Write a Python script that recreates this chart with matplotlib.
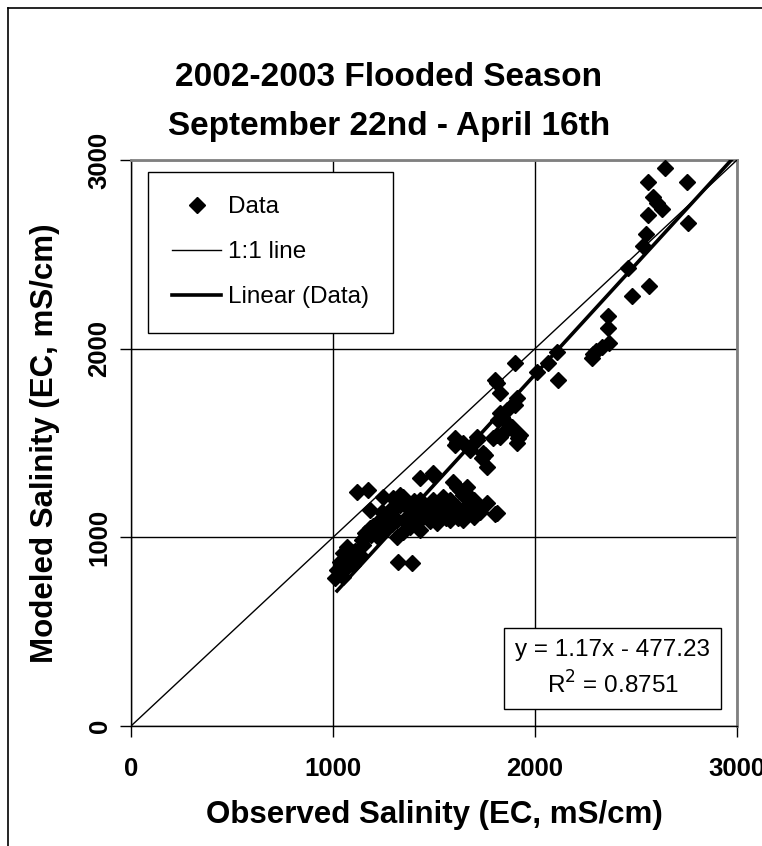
import matplotlib.pyplot as plt
from matplotlib.lines import Line2D

plt.rcParams['font.family'] = ['Liberation Sans', 'DejaVu Sans']

# observed / modeled salinity (EC, mS/cm)
observed = [2644, 2559, 2752, 2584, 2604, 2629, 2559, 2757, 2550, 2535,
            2460, 2564, 2480, 2361, 2361, 2366, 2332, 2287, 2282, 2300,
            2109, 2114, 2064, 2010, 1901, 1802, 1812, 1827, 1911, 1901,
            1861, 1837, 1817, 1861, 1886, 1926, 1842, 1812, 1713, 1604,
            1916, 1827, 1891, 1911, 1827, 1792, 1713, 1614, 1604, 1644,
            1743, 1738, 1762, 1678, 1752, 1431, 1495, 1495, 1594, 1545,
            1629, 1663, 1678, 1579, 1614, 1688, 1728, 1812, 1495, 1431,
            1347, 1381, 1446, 1495, 1545, 1431, 1515, 1579, 1644, 1614,
            1644, 1802, 1267, 1350, 1400, 1480, 1560, 1700, 1119, 1173,
            1183, 1243, 1248, 1297, 1332, 1292, 1317, 1218, 1183, 1158,
            1144, 1223, 1069, 1050, 1094, 1134, 1035, 1069, 1020, 1099,
            1010, 1050, 1322, 1391, 1317, 1347, 1381, 1431, 1160, 1170,
            1200, 1240, 1270, 1300, 1330, 1360, 1400, 1420, 1460, 1500,
            1530, 1560, 1600, 1640, 1680, 1700, 1060, 1080, 1110, 1030,
            1045, 1150, 1190, 1260, 1290, 1380, 1440, 1470, 1520, 1590,
            1620, 1660, 1720, 1760]
modeled = [2957, 2883, 2883, 2803, 2772, 2740, 2708, 2666, 2607, 2544,
           2427, 2332, 2279, 2173, 2109, 2030, 2008, 1971, 1950, 1990,
           1982, 1834, 1924, 1876, 1924, 1834, 1818, 1765, 1738, 1701,
           1675, 1638, 1622, 1606, 1585, 1542, 1553, 1542, 1532, 1526,
           1526, 1659, 1569, 1500, 1532, 1526, 1516, 1505, 1489, 1500,
           1447, 1420, 1373, 1463, 1436, 1314, 1330, 1341, 1293, 1214,
           1251, 1267, 1214, 1198, 1161, 1145, 1134, 1129, 1198, 1198,
           1214, 1145, 1129, 1129, 1118, 1092, 1076, 1092, 1092, 1267,
           1224, 1124, 1090, 1090, 1080, 1085, 1100, 1110, 1240, 1251,
           1145, 1134, 1214, 1208, 1224, 1155, 1092, 1076, 1049, 1023,
           986, 1002, 949, 917, 922, 906, 869, 843, 827, 853,
           784, 790, 869, 864, 1002, 1028, 1055, 1039, 1000, 1030,
           1060, 1090, 1120, 1150, 1170, 1180, 1190, 1170, 1160, 1170,
           1150, 1140, 1130, 1140, 1180, 1200, 880, 900, 930, 820,
           850, 960, 1010, 1050, 1070, 1110, 1120, 1100, 1110, 1120,
           1100, 1120, 1160, 1180]

slope = 1.17
intercept = -477.23
r_squared = 0.8751
trend_range = [1020, 3000]
ticks = [0, 1000, 2000, 3000]

W, H = 762, 846
fig = plt.figure(figsize=(W / 100, H / 100), dpi=100)
ax = fig.add_axes([131 / W, 1 - 726 / H, (737 - 131) / W, (726 - 160) / H])

ax.plot(observed, modeled, 'D', color='black', markersize=7.8, label='Data', zorder=4)
ax.plot([0, 3000], [0, 3000], color='black', lw=1.0, label='1:1 line', zorder=3)
tx = trend_range
ty = [slope * v + intercept for v in tx]
ax.plot(tx, ty, color='black', lw=2.6, label='Linear (Data)', zorder=3)

ax.set_xlim(0, 3000)
ax.set_ylim(0, 3000)
ax.set_xticks(ticks)
ax.set_yticks(ticks)
ax.set_xticklabels([str(t) for t in ticks], fontsize=18.5, fontweight='bold')
ax.set_yticklabels([str(t) for t in ticks], fontsize=18.5, fontweight='bold',
                   rotation=90, va='center')
ax.tick_params(axis='both', direction='out', length=8, width=1, color='black')
ax.tick_params(axis='x', pad=14)
ax.tick_params(axis='y', pad=6)
ax.grid(True, color='black', lw=1)
ax.set_axisbelow(True)
for s in ['top', 'right']:
    ax.spines[s].set_color('#808080')
    ax.spines[s].set_linewidth(2)
for s in ['left', 'bottom']:
    ax.spines[s].set_color('black')
    ax.spines[s].set_linewidth(1)

ax.set_xlabel('Observed Salinity (EC, mS/cm)', fontsize=22.5, fontweight='bold', labelpad=14)
ax.set_ylabel('Modeled Salinity (EC, mS/cm)', fontsize=22.5, fontweight='bold', labelpad=20)

fig.text(389 / W, 1 - 77 / H, '2002-2003 Flooded Season', fontsize=24,
         fontweight='bold', ha='center', va='center')
fig.text(389 / W, 1 - 127 / H, 'September 22nd - April 16th', fontsize=24,
         fontweight='bold', ha='center', va='center')

handles = [Line2D([], [], marker='D', ls='none', color='black', markersize=7.8),
           Line2D([], [], color='black', lw=1.0),
           Line2D([], [], color='black', lw=2.6)]
leg = ax.legend(handles, ['Data', '1:1 line', 'Linear (Data)'],
                loc='upper left', bbox_to_anchor=(0.028, 0.979), fontsize=17.5,
                fancybox=False, edgecolor='black', framealpha=1,
                borderpad=1.0, labelspacing=0.95, handlelength=2.0, handletextpad=0.3,
                borderaxespad=0)
leg.get_frame().set_linewidth(1)

ax.text(0.795, 0.101, 'y = 1.17x - 477.23\nR$^2$ = 0.8751', transform=ax.transAxes,
        fontsize=17.5, ha='center', va='center', linespacing=1.45, zorder=6,
        bbox=dict(boxstyle='square,pad=0.45', fc='white', ec='black', lw=1))

# outer chart border (cropped on right/bottom)
fig.add_artist(Line2D([8 / W, 8 / W], [0, 1 - 8 / H], color='black', lw=1.2))
fig.add_artist(Line2D([8 / W, 1], [1 - 8 / H, 1 - 8 / H], color='black', lw=1.2))

fig.savefig('out.png', dpi=100)
